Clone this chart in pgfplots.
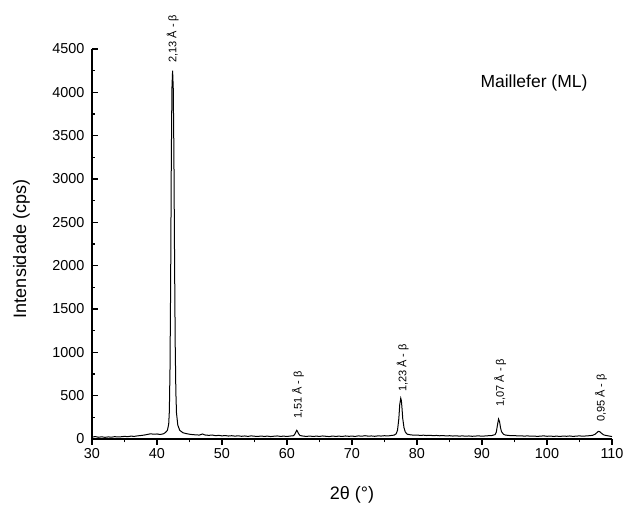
\documentclass[border=0pt]{standalone}
\usepackage{pgfplots}
\pgfplotsset{compat=1.18}
\usepackage{fontspec}
\setmainfont{Liberation Sans}
\pgfplotstableread{
x y
30.0 22
30.5 28
31.0 20
31.5 25
32.0 19
32.5 24
33.0 21
33.5 27
34.0 23
34.5 26
35.0 30
35.5 27
36.0 33
36.5 30
37.0 36
37.5 40
38.0 45
38.5 52
39.0 60
39.5 55
40.0 58
40.5 52
41.0 60
41.3 75
41.6 100
41.8 170
41.9 320
42.0 800
42.1 1800
42.2 3200
42.3 4050
42.4 4250
42.5 4050
42.6 3300
42.7 2100
42.8 1100
42.9 550
43.0 300
43.2 160
43.5 100
44.0 72
44.5 62
45.0 55
45.5 50
46.0 48
46.5 45
47.0 58
47.3 48
47.5 45
48.0 42
48.5 46
49.0 38
49.5 42
50.0 36
50.5 40
51.0 34
51.5 38
52.0 33
52.5 37
53.0 31
53.5 35
54.0 30
54.5 36
55.0 32
55.5 29
56.0 34
56.5 30
57.0 33
57.5 28
58.0 32
58.5 35
59.0 30
59.5 33
60.0 29
60.5 34
61.0 38
61.2 55
61.4 85
61.5 100
61.6 90
61.8 60
62.0 40
62.5 33
63.0 30
63.5 34
64.0 29
64.5 33
65.0 30
65.5 35
66.0 31
66.5 28
67.0 34
67.5 30
68.0 33
68.5 29
69.0 35
69.5 31
70.0 33
70.5 30
71.0 36
71.5 32
72.0 38
72.5 33
73.0 35
73.5 31
74.0 36
74.5 34
75.0 38
75.5 35
76.0 40
76.5 45
76.8 60
77.0 100
77.2 230
77.35 400
77.5 470
77.6 440
77.7 350
77.8 240
78.0 130
78.2 80
78.5 55
79.0 48
79.5 44
80.0 46
80.5 41
81.0 44
81.5 40
82.0 43
82.5 38
83.0 41
83.5 37
84.0 40
84.5 35
85.0 38
85.5 34
86.0 37
86.5 33
87.0 36
87.5 32
88.0 35
88.5 31
89.0 34
89.5 36
90.0 32
90.5 35
91.0 38
91.5 40
92.0 50
92.2 80
92.4 170
92.55 230
92.7 200
92.85 130
93.0 85
93.3 55
93.6 45
94.0 42
94.5 38
95.0 40
95.5 35
96.0 37
96.5 33
97.0 36
97.5 32
98.0 34
98.5 30
99.0 33
99.5 36
100.0 31
100.5 34
101.0 30
101.5 33
102.0 29
102.5 34
103.0 31
103.5 35
104.0 30
104.5 33
105.0 36
105.5 32
106.0 35
106.5 38
107.0 42
107.4 55
107.7 75
107.9 88
108.1 85
108.4 65
108.7 48
109.0 42
109.5 35
110.0 28
}\xrd
\begin{document}
\begin{tikzpicture}
\begin{axis}[
 scale only axis, width=520pt, height=390pt,
 xmin=30, xmax=110, ymin=0, ymax=4500,
 axis lines=left, axis line style={-, line width=1.1pt},
 xtick={30,40,...,110}, ytick={0,500,...,4500},
 minor x tick num=1, minor y tick num=1,
 xtick align=outside, ytick align=inside,
 major tick length=6pt, minor tick length=3.5pt,
 tick style={line width=1.1pt, black},
 ticklabel style={font=\fontsize{14.4}{16}\selectfont},
 /pgf/number format/assume math mode=true,
 scaled y ticks=false, y tick label style={/pgf/number format/1000 sep={}, xshift=-4pt},
 xlabel={2θ (°)}, ylabel={Intensidade (cps)},
 label style={font=\fontsize{18}{20}\selectfont},
 xlabel style={at={(axis description cs:0.5,0)}, yshift=-56pt, anchor=center},
 ylabel style={at={(axis description cs:0,0.5)}, yshift=70.5pt, xshift=-5pt, anchor=center},
 clip=false,
]
\addplot[black, line width=1pt] table[x=x,y=y] {\xrd};
\node[rotate=90, anchor=west, font=\fontsize{11}{13}\selectfont, inner sep=0pt] at (axis cs:42.4,4340) {2,13 Å - β};
\node[rotate=90, anchor=west, font=\fontsize{11}{13}\selectfont, inner sep=0pt] at (axis cs:61.7,230) {1,51 Å - β};
\node[rotate=90, anchor=west, font=\fontsize{11}{13}\selectfont, inner sep=0pt] at (axis cs:77.8,540) {1,23 Å - β};
\node[rotate=90, anchor=west, font=\fontsize{11}{13}\selectfont, inner sep=0pt] at (axis cs:92.8,370) {1,07 Å - β};
\node[rotate=90, anchor=west, font=\fontsize{11}{13}\selectfont, inner sep=0pt] at (axis cs:108.3,195) {0,95 Å - β};
\node[font=\fontsize{17.5}{20}\selectfont, anchor=center] at (axis cs:98.0,4113) {Maillefer (ML)};
\coordinate (sw) at (rel axis cs:0,0);
\coordinate (ne) at (rel axis cs:1,1);
\end{axis}
\pgfresetboundingbox
\path ([xshift=-92pt,yshift=-67pt]sw) rectangle ([xshift=17pt,yshift=49pt]ne);
\end{tikzpicture}
\end{document}
